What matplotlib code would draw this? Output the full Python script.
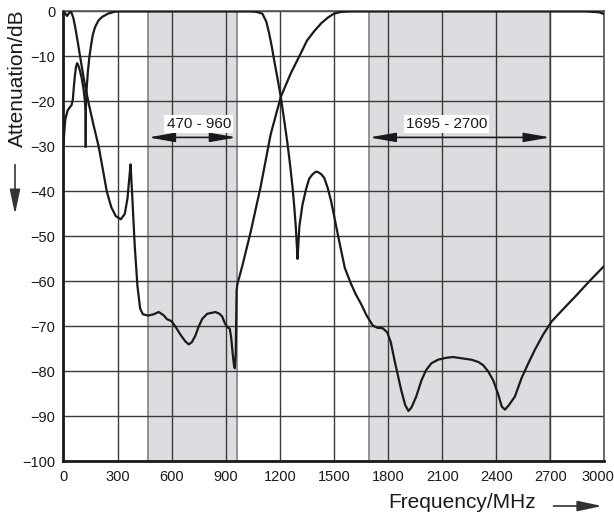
import matplotlib
matplotlib.use('Agg')
import matplotlib.pyplot as plt
import matplotlib.transforms as mtransforms
from matplotlib.patches import ArrowStyle, FancyArrowPatch

plt.rcParams['font.family'] = ['Liberation Sans', 'DejaVu Sans']

# 曲线 A（UHF 带阻 / 高通部分）
freq_a = [0, 10, 20, 30, 42, 55, 65, 80, 92, 115, 140, 165, 195, 220, 240, 265, 290, 318, 340,
          355, 365, 372, 380, 395, 410, 425, 440, 470, 500, 528, 555, 574, 598, 620, 648, 675,
          695, 712, 732, 750, 770, 797, 843, 865, 880, 895, 910, 922, 930, 938, 945, 950, 955,
          958, 960, 965, 992, 1038, 1093, 1149, 1205, 1261, 1316, 1350, 1390, 1430, 1465,
          1500, 1540, 1600, 2900, 2970, 3000]
att_a = [0, -0.5, -1.0, -0.4, 0, -1.5, -3.5, -7, -10, -15.5, -20.5, -25, -30, -35.5, -40, -43.5,
         -45.5, -46.2, -45, -41.5, -37, -34, -40, -52, -61, -66, -67.3, -67.6, -67.3, -66.8,
         -67.5, -68.4, -68.8, -70, -71.8, -73.3, -74, -73.5, -72, -70, -68.3, -67.2, -66.8,
         -67.2, -67.8, -69.3, -70.2, -70.5, -72.5, -76, -78.5, -79.3, -76, -68, -62, -60.5,
         -56.5, -49, -39, -27.3, -19, -13.7, -9.3, -6.5, -4.4, -2.6, -1.4, -0.5, -0.1, 0, 0,
         -0.2, -0.6]

# 曲线 B（低频部分）
freq_b = [0, 4, 10, 23, 35, 45, 52, 58, 64, 70, 76, 82, 90, 101, 112, 119, 122, 123]
att_b = [-30, -27, -24, -22, -21.3, -20.8, -19.5, -16.5, -14, -12.2, -11.5, -12, -13, -14.8,
         -17.5, -20, -22, -30]

# 曲线 C（UHF 通带）
freq_c = [123, 124, 127, 135, 144, 153, 162, 175, 194, 215, 247, 280, 300, 1040, 1070, 1103,
          1125, 1140, 1155, 1168, 1185, 1205, 1225, 1242, 1257, 1270, 1280, 1288, 1294, 1298,
          1302, 1308, 1325, 1344, 1362, 1381, 1400, 1412, 1430, 1446, 1465, 1483, 1500, 1520,
          1539, 1560, 1594, 1620, 1650, 1680, 1715, 1740, 1770, 1795, 1815, 1835, 1855, 1873,
          1895, 1913, 1930, 1956, 1985, 2011, 2040, 2077, 2120, 2160, 2210, 2262, 2300, 2327,
          2355, 2383, 2410, 2430, 2448, 2470, 2503, 2540, 2580, 2614, 2660, 2707, 2770, 2837,
          2920, 3000]
att_c = [-30, -22, -18, -13.5, -10, -7.5, -5.3, -3.5, -2, -1.2, -0.5, -0.1, 0, 0, -0.1, -0.5,
         -2.3, -4.8, -7.8, -10.8, -14.5, -19, -24.5, -29.3, -34.3, -39, -43.5, -47.8, -52, -55,
         -52, -47.8, -43, -39.7, -37.2, -36.2, -35.6, -35.7, -36.2, -37, -39.2, -42, -45.3,
         -49.3, -53, -57, -60.5, -62.8, -65, -67.5, -69.8, -70.3, -70.4, -71.3, -73.5, -77.4,
         -81, -84.2, -87.5, -88.8, -88, -85.6, -82, -79.7, -78.2, -77.4, -77, -76.8, -77.1,
         -77.4, -77.9, -78.6, -80, -82, -85, -87.8, -88.5, -87.5, -85.6, -81.5, -78, -75.2,
         -71.8, -68.9, -66.2, -63.4, -59.8, -56.5]

# 频段
bands = [(470, 960), (1695, 2700)]
band_labels = ['470 - 960', '1695 - 2700']
label_x = [750, 2123]

x_ticks = list(range(0, 3001, 300))
y_ticks = list(range(-100, 1, 10))

fig = plt.figure(figsize=(6.14, 5.19), dpi=100)
ax = fig.add_axes([0.1034, 0.111, 0.8811, 0.867])

for (lo, hi) in bands:
    ax.axvspan(lo, hi, color='#dcdde0', zorder=0, lw=0)
    ax.axvline(lo, color='#8a8a8a', lw=1.3, zorder=0.6)
    ax.axvline(hi, color='#8a8a8a', lw=1.3, zorder=0.6)

ax.grid(True, color='#3a3a3a', lw=1.0)
ax.set_axisbelow('line')

ax.plot(freq_a, att_a, color='#1a1a1a', lw=1.6, zorder=3)
ax.plot(freq_b, att_b, color='#1a1a1a', lw=1.6, zorder=3)
ax.plot(freq_c, att_c, color='#1a1a1a', lw=1.6, zorder=3)

# 双向箭头与频段标注
astyle = ArrowStyle('<|-|>', head_length=1.6, head_width=0.28)
for (lo, hi), lab, lx in zip(bands, band_labels, label_x):
    ax.annotate('', xy=(hi, -28), xytext=(lo, -28),
                arrowprops=dict(arrowstyle=astyle, color='#1a1a1a', lw=1.2,
                                shrinkA=0, shrinkB=0), zorder=4)
    ax.text(lx, -25, lab, ha='center', va='center', fontsize=11, color='#1a1a1a',
            bbox=dict(facecolor='white', edgecolor='none', pad=1.5), zorder=5)

ax.set_xlim(0, 3000)
ax.set_ylim(-100, 0)
ax.set_xticks(x_ticks)
ax.set_yticks(y_ticks)
ax.tick_params(length=0, labelsize=10.5, colors='#1a1a1a', pad=6)

# 最后一个刻度标签稍微左移，避免被裁切
last = ax.get_xticklabels()[-1]
last.set_transform(last.get_transform() +
                   mtransforms.ScaledTranslation(-7 / 100, 0, fig.dpi_scale_trans))

for s in ['left', 'bottom']:
    ax.spines[s].set_linewidth(2.0)
    ax.spines[s].set_color('#1a1a1a')
for s in ['top', 'right']:
    ax.spines[s].set_linewidth(1.2)
    ax.spines[s].set_color('#555555')

# 轴标题与方向箭头
fig.text(0.028, 0.85, 'Attenuation/dB', rotation=90, ha='center', va='center',
         fontsize=15, color='#1a1a1a')
fig.text(0.752, 0.031, 'Frequency/MHz', ha='center', va='center',
         fontsize=15, color='#1a1a1a')
hstyle = ArrowStyle('-|>', head_length=1.5, head_width=0.32)
fig.patches.append(FancyArrowPatch(
    (0.0244, 0.688), (0.0244, 0.582), transform=fig.transFigure,
    arrowstyle=hstyle, mutation_scale=10, color='#333333', lw=1.2))
fig.patches.append(FancyArrowPatch(
    (0.897, 0.025), (0.985, 0.025), transform=fig.transFigure,
    arrowstyle=hstyle, mutation_scale=10, color='#333333', lw=1.2))

fig.savefig('out.png', dpi=100)
